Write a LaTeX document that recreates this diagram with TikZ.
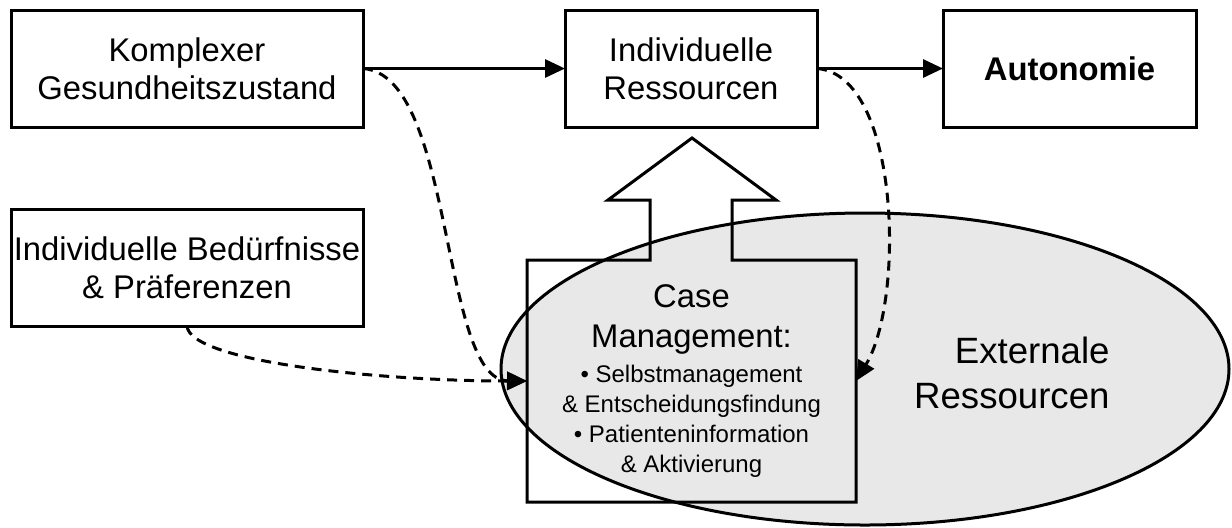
\documentclass[tikz,border=0pt]{standalone}
\usepackage{fontspec}
\setmainfont{Liberation Sans}
\usetikzlibrary{arrows.meta}
\usetikzlibrary{shapes.geometric}
\usetikzlibrary{positioning}
\definecolor{extgray}{RGB}{232,232,232}

\begin{document}
\begin{tikzpicture}[x=0.5pt,y=-0.5pt,->,>={Triangle[length=10pt,width=9pt]},line width=1.5pt,
    box node/.style={rectangle,draw,align=center,inner sep=1pt,outer sep=0pt,minimum height=58.5pt,font=\fontsize{16.4}{19}\selectfont},
    dash line/.style={dash pattern=on 5pt off 3.5pt}]
   \useasboundingbox (0,0) rectangle (1232,527);
   % upper row
   \node[box node,minimum width=176pt] (kg) at (187,68.5) {Komplexer\\Gesundheitszustand};
   \node[box node,minimum width=126pt] (ir) at (691,68.5) {Individuelle\\Ressourcen};
   \node[box node,minimum width=126.5pt,font=\fontsize{16.4}{19}\selectfont\bfseries] (aut) at (1069.5,68.5) {Autonomie};
   \node[box node,minimum width=176pt] (ib) at (187,267.5) {Individuelle Bed\"urfnisse\\\& Pr\"aferenzen};
   % externale ressourcen
   \node[ellipse,draw,fill=extgray,inner sep=0pt,minimum width=364pt,minimum height=156pt] (ext) at (865,369) {};
   \node[anchor=east,align=right,inner sep=0pt,font=\fontsize{18.3}{22.5}\selectfont] (extlbl) at (1111,373) {Externale\\Ressourcen};
   % case management box with block arrow
   \node[rectangle,inner sep=0pt,outer sep=0pt,minimum width=164.5pt,minimum height=121pt,align=center,
     font=\fontsize{12}{15}\selectfont] (cm) at (691.5,381)
     {{\fontsize{16.4}{19}\selectfont Case}\\[5pt]{\fontsize{16.4}{19}\selectfont Management:}\\[2.5pt]
      \textbullet\ Selbstmanagement\\\& Entscheidungsfindung\\\textbullet\ Patienteninformation\\\& Aktivierung};
   \draw[-] (cm.north west) -- (cm.south west) -- (cm.south east) -- (cm.north east) -- (732,260) -- (732,200)
     -- (776,200) -- (692,138) -- (608,200) -- (650,200) -- (650,260) -- cycle;
   % arrows
   \path (kg.east) edge (ir.west);
   \path (ir.east) edge (aut.west);
   \draw[dash line] (kg.east) .. controls (455,75) and (440,380) .. (cm.west);
   \draw[dash line] (ib.south) .. controls (190,362) and (380,381) .. (cm.west);
   \draw[dash line] (ir.east) .. controls (900,75) and (905,300) .. (cm.east);
\end{tikzpicture}
\end{document}
